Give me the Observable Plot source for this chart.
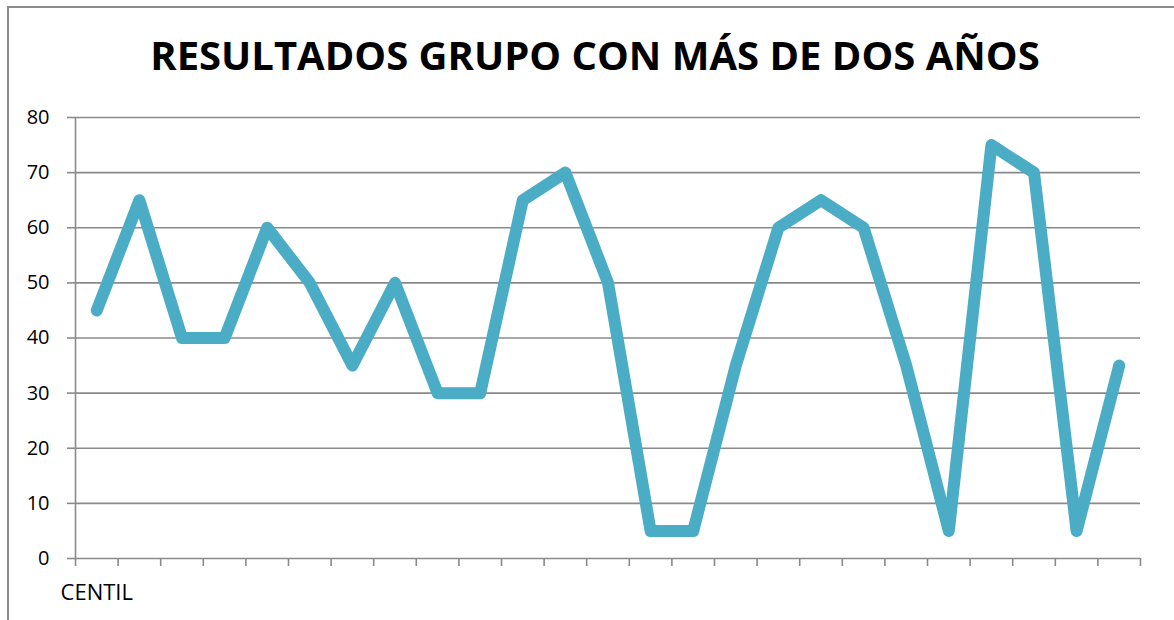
<!DOCTYPE html>
<html>
<head>
<meta charset="utf-8">
<script src="https://cdn.jsdelivr.net/npm/d3@7"></script>
<script src="https://cdn.jsdelivr.net/npm/@observablehq/plot@0.6"></script>
<style>
  html, body { margin: 0; padding: 0; background: #fff; }
  body { width: 1174px; height: 620px; overflow: hidden; position: relative; font-family: "Open Sans", sans-serif; }
  #frame { position: absolute; left: 7px; top: 6px; width: 1200px; height: 700px; box-sizing: border-box;
           border-left: 2px solid #8c8c8c; border-top: 2px solid #8c8c8c; pointer-events: none; }
  #titlebox { height: 100px; position: relative; }
  #title { position: absolute; left: 0; width: 1190px; top: 35px; text-align: center; font-weight: 700;
           font-size: 40px; line-height: 40px; color: #000; white-space: nowrap; }
  #chart svg { display: block; }
</style>
</head>
<body>
<div id="frame"></div>
<div id="titlebox"><div id="title">RESULTADOS GRUPO CON MÁS DE DOS AÑOS</div></div>
<div id="chart"></div>
<script>
const categories = ["CENTIL", "", "", "", "", "", "", "", "", "", "", "", "", "", "", "", "", "", "", "", "", "", "", "", ""];
const values = [45, 65, 40, 40, 60, 50, 35, 50, 30, 30, 65, 70, 50, 5, 5, 35, 60, 65, 60, 35, 5, 75, 70, 5, 35];
const yTicks = [0, 10, 20, 30, 40, 50, 60, 70, 80];

const data = values.map((v, i) => ({ i, v, label: categories[i] }));
const boundaries = d3.range(categories.length + 1);
const centers = categories.map((c, i) => i + 0.5);

const gridColor = "#8a8a8a";

const chart = Plot.plot({
  width: 1174,
  height: 520,
  marginLeft: 75,
  marginRight: 34,
  marginTop: 17,
  marginBottom: 62,
  style: { fontFamily: "'Open Sans', sans-serif", fontSize: "20px", color: "#000", background: "transparent" },
  x: { domain: [0, categories.length], axis: null },
  y: { domain: [0, 80], axis: null },
  marks: [
    Plot.ruleY(yTicks, { stroke: gridColor, strokeWidth: 1.6 }),
    Plot.ruleX([0], { stroke: gridColor, strokeWidth: 1.6 }),
    Plot.axisY({ ticks: yTicks, tickSize: 8, tickPadding: 18, tickFormat: d => String(d), label: null,
                 stroke: gridColor, strokeWidth: 1.6, color: "#000", fontSize: 20 }),
    Plot.axisX({ ticks: boundaries, tickSize: 8, tickFormat: () => "", label: null, stroke: gridColor, strokeWidth: 1.6 }),
    Plot.axisX({ ticks: centers, tickSize: 0, tickPadding: 26, tickFormat: d => categories[Math.floor(d)], label: null,
                 color: "#000", fontSize: 22 }),
    Plot.line(data, { x: d => d.i + 0.5, y: "v", stroke: "#4BACC6", strokeWidth: 12,
                      strokeLinejoin: "round", strokeLinecap: "round" })
  ]
});
document.getElementById("chart").appendChild(chart);
</script>
</body>
</html>
